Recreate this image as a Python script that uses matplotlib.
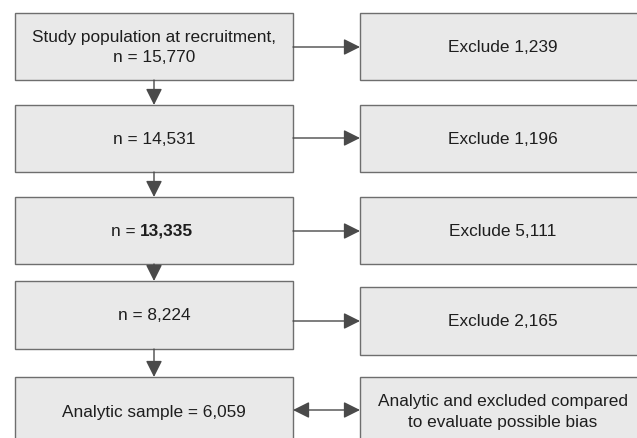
import matplotlib.pyplot as plt
from matplotlib.patches import Rectangle

left_labels = ["Study population at recruitment,\nn = 15,770",
               "n = 14,531",
               "n = 13,335",
               "n = 8,224",
               "Analytic sample = 6,059"]
right_labels = ["Exclude 1,239",
                "Exclude 1,196",
                "Exclude 5,111",
                "Exclude 2,165",
                "Analytic and excluded compared\nto evaluate possible bias"]

# layout in pixels (y grows downward)
left_x = (15, 293)
right_x = (360, 645)
left_y = [(13, 80), (105, 172), (197, 264), (281, 349), (377, 445)]
right_y = [(13, 80), (105, 172), (197, 264), (287, 355), (377, 445)]
arrow_y = [47, 138, 231, 321, 410]

fill = "#e9e9e9"
edge = "#6e6e6e"
ink = "#4a4a4a"
txt = "#1e1e1e"

plt.rcParams['font.family'] = ['Liberation Sans', 'DejaVu Sans']

fig = plt.figure(figsize=(6.37, 4.38), dpi=100)
ax = fig.add_axes([0, 0, 1, 1])
ax.set_xlim(0, 637)
ax.set_ylim(438, 0)
ax.axis('off')

fs = 12.4


def box(x, y, label, bold_split=None):
    ax.add_patch(Rectangle((x[0], y[0]), x[1] - x[0], y[1] - y[0],
                           facecolor=fill, edgecolor=edge, linewidth=1.0))
    cx = (x[0] + x[1]) / 2
    cy = (y[0] + y[1]) / 2
    if bold_split:
        a, b = bold_split
        ax.text(cx - 14, cy + 1, a, ha='right', va='center', fontsize=fs, color=txt)
        ax.text(cx - 14, cy + 1, b, ha='left', va='center', fontsize=fs,
                color=txt, fontweight='bold')
    else:
        ax.text(cx, cy + 1, label, ha='center', va='center', fontsize=fs,
                color=txt, linespacing=1.45)


def arrow(x0, y0, x1, y1, style='-|>'):
    ax.annotate('', xy=(x1, y1), xytext=(x0, y0),
                arrowprops=dict(arrowstyle=style + ',head_length=1.0,head_width=0.5',
                                mutation_scale=10, color=ink, lw=1.0,
                                shrinkA=0, shrinkB=0))


for i, lab in enumerate(left_labels):
    split = None
    if lab == "n = 13,335":
        split = ("n = ", "13,335")
    box(left_x, left_y[i], lab, split)
for i, lab in enumerate(right_labels):
    box(right_x, right_y[i], lab)

cx = (left_x[0] + left_x[1]) / 2
for i in range(len(left_y) - 1):
    arrow(cx, left_y[i][1], cx, left_y[i + 1][0])

for i, y in enumerate(arrow_y):
    if i == len(arrow_y) - 1:
        arrow(left_x[1], y, right_x[0], y, style='<|-|>')
    else:
        arrow(left_x[1], y, right_x[0], y)

fig.savefig("out.png", dpi=100)
